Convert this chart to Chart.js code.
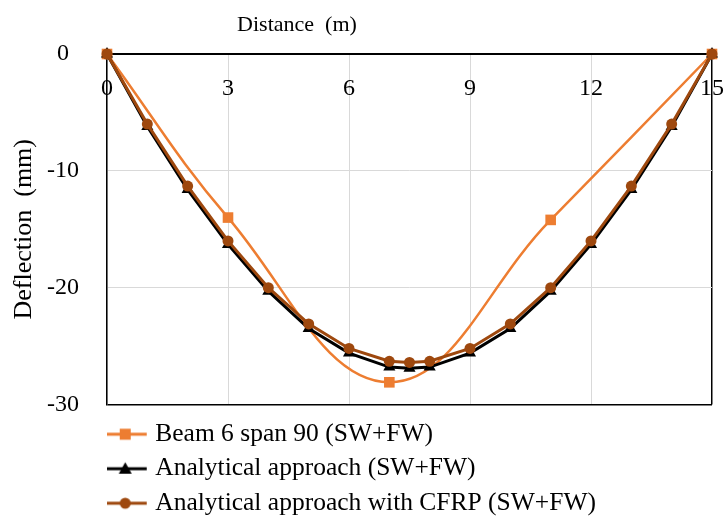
<!DOCTYPE html>
<html lang="en">
<head>
<meta charset="UTF-8">
<title>Deflection</title>
<script src="https://cdn.jsdelivr.net/npm/chart.js"></script>
<style>
  body { margin: 0; background: #fff; }
</style>
</head>
<body>
<canvas id="deflectionChart" width="724" height="518"></canvas>
<script>
    // valores (mm)
    const distBeam = [0, 3, 7, 11, 15];
    const beam = [0, -14.0, -28.1, -14.2, 0];

    const distAnalytical = [0, 1, 2, 3, 4, 5, 6, 7, 7.5, 8, 9, 10, 11, 12, 13, 14, 15];
    const analytical = [0, -6.2, -11.6, -16.3, -20.3, -23.5, -25.6, -26.8, -26.9, -26.8, -25.6, -23.5, -20.3, -16.3, -11.6, -6.2, 0];
    const analyticalCfrp = [0, -6.0, -11.3, -16.0, -20.0, -23.1, -25.2, -26.3, -26.4, -26.3, -25.2, -23.1, -20.0, -16.0, -11.3, -6.0, 0];

    const seriesLabels = ['Beam 6 span 90 (SW+FW)', 'Analytical approach (SW+FW)', 'Analytical approach with CFRP (SW+FW)'];
    const xTitle = 'Distance  (m)';
    const yTitle = 'Deflection  (mm)';
    const xMin = 0, xMax = 15, xStep = 3;
    const yMin = -30, yMax = 0, yStep = 10;

    const laranja = '#ED7D31';
    const preto = '#000000';
    const marrom = '#9E480E';
    const cinza = '#d9d9d9';
    const fonte = '"Liberation Serif", "Times New Roman", serif';

    Chart.defaults.font.family = fonte;
    Chart.defaults.color = '#000';

    function pontos(xs, ys) {
        return xs.map((x, i) => ({ x: x, y: ys[i] }));
    }

    // amostra da legenda: linha com o marcador no meio
    function amostra(cor, estilo) {
        const c = document.createElement('canvas');
        c.width = 51;
        c.height = 16;
        const g = c.getContext('2d');
        g.strokeStyle = cor;
        g.fillStyle = cor;
        g.lineWidth = 3;
        g.beginPath();
        g.moveTo(0, 8);
        g.lineTo(43, 8);
        g.stroke();
        g.beginPath();
        if (estilo === 'rect') {
            g.rect(16, 2.5, 11, 11);
        } else if (estilo === 'triangle') {
            g.moveTo(21.5, 1.5);
            g.lineTo(28, 13);
            g.lineTo(15, 13);
            g.closePath();
        } else {
            g.arc(21.5, 8, 5.5, 0, Math.PI * 2);
        }
        g.fill();
        return c;
    }

    const amostras = [amostra(laranja, 'rect'), amostra(preto, 'triangle'), amostra(marrom, 'circle')];

    const tituloEixoX = {
        id: 'tituloEixoX',
        afterDraw(chart) {
            const { ctx, chartArea } = chart;
            ctx.save();
            ctx.font = '22px ' + fonte;
            ctx.fillStyle = '#000';
            ctx.textAlign = 'center';
            ctx.textBaseline = 'middle';
            ctx.fillText(xTitle, chartArea.left + (chartArea.right - chartArea.left) * 0.314, chartArea.top / 2 - 2);
            ctx.restore();
        }
    };

    const ajusteLegenda = {
        id: 'ajusteLegenda',
        afterLayout(chart) {
            chart.legend.top += 8;
            chart.legend.bottom += 8;
        }
    };

    const dados = {
        datasets: [{
            label: seriesLabels[0],
            data: pontos(distBeam, beam),
            borderColor: laranja,
            backgroundColor: laranja,
            borderWidth: 2.5,
            pointStyle: 'rect',
            pointRadius: 7.5,
            pointBorderWidth: 0,
            tension: 0.4,
            order: 3,
            clip: false
        }, {
            label: seriesLabels[1],
            data: pontos(distAnalytical, analytical),
            borderColor: preto,
            backgroundColor: preto,
            borderWidth: 3,
            pointStyle: 'triangle',
            pointRadius: 7,
            pointBorderWidth: 0,
            tension: 0,
            order: 2,
            clip: false
        }, {
            label: seriesLabels[2],
            data: pontos(distAnalytical, analyticalCfrp),
            borderColor: marrom,
            backgroundColor: marrom,
            borderWidth: 3,
            pointStyle: 'circle',
            pointRadius: 5.5,
            pointBorderWidth: 0,
            tension: 0,
            order: 1,
            clip: false
        }]
    };

    const config = {
        type: 'line',
        data: dados,
        options: {
            responsive: false,
            animation: false,
            layout: { padding: { top: 54, right: 12, left: 0, bottom: 0 } },
            scales: {
                x: {
                    type: 'linear',
                    position: { y: 0 },
                    min: xMin,
                    max: xMax,
                    ticks: { stepSize: xStep, padding: 0, color: '#000', font: { size: 24 } },
                    grid: {
                        drawTicks: true,
                        tickLength: 20,
                        tickColor: 'rgba(0,0,0,0)',
                        color: c => c.tick && c.tick.value === xMax ? preto : cinza,
                        lineWidth: c => c.tick && c.tick.value === xMax ? 1.5 : 1
                    },
                    border: { color: preto, width: 2 }
                },
                y: {
                    min: yMin,
                    max: yMax,
                    ticks: { stepSize: yStep, padding: 28, crossAlign: 'center', color: '#000', font: { size: 24 } },
                    grid: {
                        drawTicks: false,
                        color: c => c.tick && c.tick.value === yMin ? preto : cinza,
                        lineWidth: c => c.tick && c.tick.value === yMin ? 1.5 : 1
                    },
                    border: { color: preto, width: 1.5 },
                    title: {
                        display: true,
                        text: yTitle,
                        color: '#000',
                        font: { size: 26 },
                        padding: { top: 9, bottom: 0 }
                    },
                    afterFit: s => { s.width = 107; }
                }
            },
            plugins: {
                legend: {
                    position: 'bottom',
                    align: 'start',
                    fullSize: false,
                    labels: {
                        usePointStyle: true,
                        pointStyleWidth: 26.5,
                        padding: 9,
                        color: '#000',
                        font: { size: 25.5 },
                        generateLabels: chart => {
                            const itens = Chart.defaults.plugins.legend.labels.generateLabels(chart);
                            itens.sort((a, b) => a.datasetIndex - b.datasetIndex);
                            itens.forEach(it => { it.pointStyle = amostras[it.datasetIndex]; });
                            return itens;
                        }
                    }
                },
                tooltip: { enabled: false }
            }
        },
        plugins: [tituloEixoX, ajusteLegenda]
    };

    const grafico = new Chart(document.querySelector('#deflectionChart'), config);
</script>
</body>
</html>
